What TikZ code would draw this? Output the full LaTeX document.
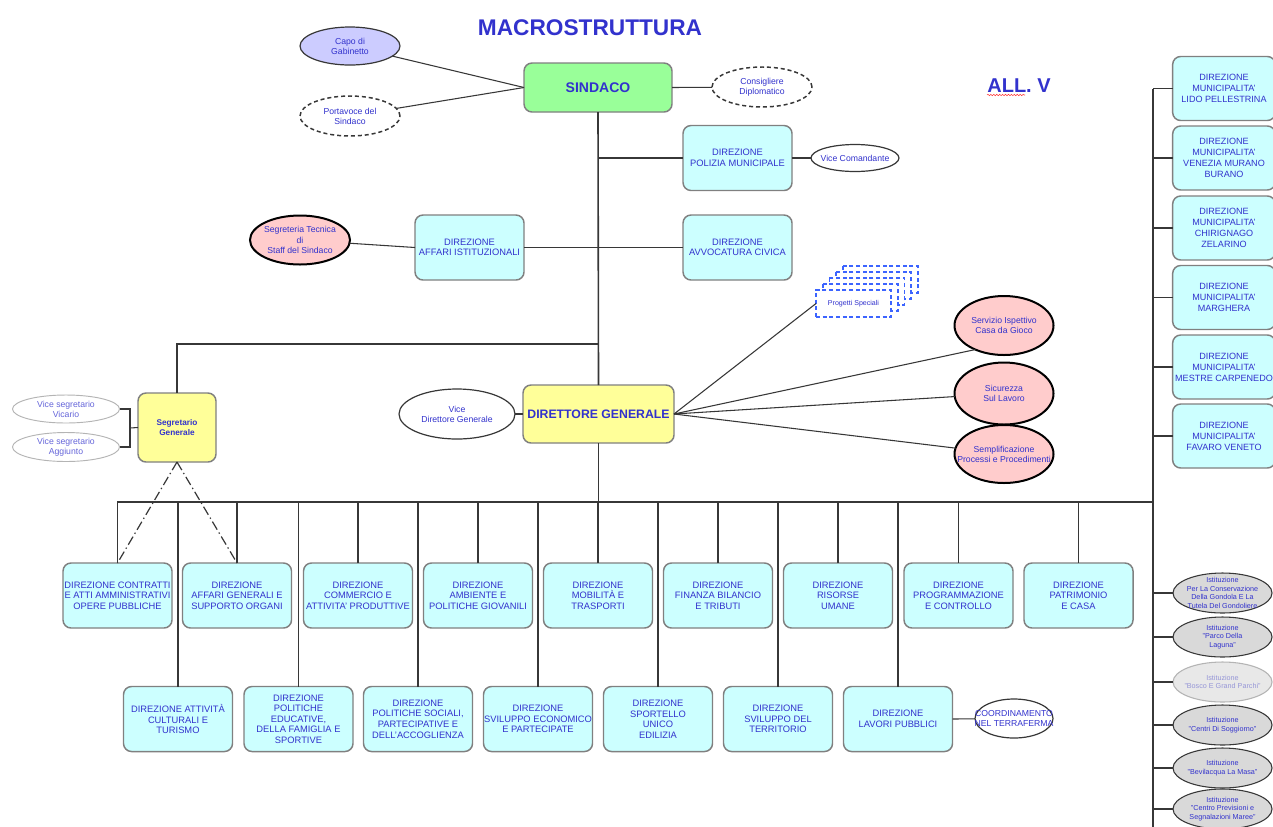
\documentclass[tikz,border=0pt]{standalone}
\usepackage{fontspec}
\setmainfont{Liberation Sans}
\usetikzlibrary{shapes.geometric,decorations.pathmorphing}
\newcommand\fsz[2]{\fontsize{#1}{#2}\selectfont}
\definecolor{txtblue}{RGB}{50,50,205}
\definecolor{cyanf}{RGB}{204,255,255}
\definecolor{boxgray}{RGB}{128,128,128}
\definecolor{greenf}{RGB}{153,255,153}
\definecolor{yellowf}{RGB}{255,255,153}
\definecolor{pinkf}{RGB}{255,204,204}
\definecolor{lavf}{RGB}{204,204,255}
\definecolor{istf}{RGB}{217,217,217}
\definecolor{linec}{RGB}{55,55,55}
\definecolor{psblue}{RGB}{60,100,255}
\definecolor{lightline}{RGB}{180,180,180}
\definecolor{paletxt}{RGB}{150,150,215}
\begin{document}
\begin{tikzpicture}[x=0.75pt,y=-0.75pt,
  base/.style={text=txtblue, align=center, inner sep=0pt, outer sep=0pt},
  dirbox/.style={base, draw=boxgray, line width=1.1pt, fill=cyanf, rounded corners=6pt,
     minimum width=81.75pt, minimum height=48.75pt, font=\fsz{7}{7.9}},
  munbox/.style={dirbox, minimum width=77pt, minimum height=48pt, font=\fsz{6.8}{8.2}},
  ell/.style={base, ellipse, draw=linec, line width=0.9pt},
  elltext/.style={base, font=\fsz{6.5}{7.6}},
  smalltext/.style={base, font=\fsz{5.4}{6.5}},
  pinkell/.style={ell, fill=pinkf, draw=black, line width=1.5pt},
  istell/.style={ell, fill=istf, draw=linec, line width=0.8pt, minimum width=74.25pt, minimum height=30pt},
  dashell/.style={ell, dashed, dash pattern=on 3pt off 2.2pt, line width=1.1pt},
  conn/.style={draw=linec, line width=0.8pt},
  thickconn/.style={draw=linec, line width=1.2pt},
  dashdot/.style={draw=linec, line width=0.9pt, dash pattern=on 7pt off 2.5pt on 1pt off 2.5pt},
  psdash/.style={draw=psblue, line width=1.2pt, dash pattern=on 3pt off 2pt}
]
\useasboundingbox (0,0) rectangle (1273,826);
\fill[white] (0,0) rectangle (1273,826);
\clip (0,0) rectangle (1273,826);

% titles
\node[base, font=\fsz{17}{20}\bfseries] (title) at (590,28) {MACROSTRUTTURA};
\node[base, font=\fsz{15}{18}\bfseries] (allv) at (1019,86) {ALL. V};
\coordinate (ulA) at (987,95);
\coordinate (ulB) at (1025,95);
\draw[red!80, line width=0.4pt, decorate, decoration={snake, amplitude=0.5pt, segment length=2.2pt}] (ulA) -- (ulB);

% top
\node[base, draw=boxgray, line width=1.1pt, fill=greenf, rounded corners=6pt,
      minimum width=111pt, minimum height=36.75pt, font=\fsz{10.5}{12}\bfseries] (sindaco) at (598,87.5) {SINDACO};
\node[ell, fill=lavf, minimum width=75pt, minimum height=28.5pt,
      label={[elltext]center:Capo di\\Gabinetto}] (capo) at (350,46) {};
\node[dashell, minimum width=75pt, minimum height=30pt,
      label={[elltext]center:Portavoce del\\Sindaco}] (porta) at (350,116) {};
\node[dashell, minimum width=75pt, minimum height=30pt,
      label={[elltext]center:Consigliere\\Diplomatico}] (consig) at (762,87) {};

\node[dirbox] (polizia) at (737.5,158) {DIREZIONE\\POLIZIA MUNICIPALE};
\node[ell, minimum width=66pt, minimum height=20.25pt,
      label={[elltext]center:Vice Comandante}] (vcom) at (855,158) {};

\node[dirbox] (affari) at (469.5,247.5) {DIREZIONE\\AFFARI ISTITUZIONALI};
\node[dirbox] (avvoc) at (737.5,247.5) {DIREZIONE\\AVVOCATURA CIVICA};
\node[pinkell, minimum width=75pt, minimum height=36.75pt,
      label={[elltext]center:Segreteria Tecnica\\di\\Staff del Sindaco}] (segr) at (300,240) {};

% direttore generale
\node[base, draw=boxgray, line width=1.1pt, fill=yellowf, rounded corners=6pt,
      minimum width=113.25pt, minimum height=43.5pt, font=\fsz{9.2}{11}\bfseries] (dg) at (598.5,414) {DIRETTORE GENERALE};
\node[ell, minimum width=87pt, minimum height=37.5pt,
      label={[elltext]center:Vice\\Direttore Generale}] (vdg) at (457,414) {};

% progetti speciali
\foreach \k in {4,3,2,1}
  \draw[psdash, fill=white] ({816+6.7*\k},{290-6*\k}) rectangle ({891+6.7*\k},{317-6*\k});
\node[base, psdash, fill=white, minimum width=56.25pt, minimum height=20.25pt,
      font=\fsz{5.3}{6.4}] (ps) at (853.5,303.5) {Progetti Speciali};

\node[pinkell, minimum width=74.25pt, minimum height=44.25pt,
      label={[elltext]center:Servizio Ispettivo\\Casa da Gioco}] (serv) at (1004,325.5) {};
\node[pinkell, minimum width=74.25pt, minimum height=46.5pt,
      label={[elltext]center:Sicurezza\\Sul Lavoro}] (sic) at (1004,393.5) {};
\node[pinkell, minimum width=74.25pt, minimum height=43.5pt,
      label={[elltext]center:Semplificazione\\Processi e Procedimenti}] (sempl) at (1004,454) {};

% segretario generale
\node[base, draw=boxgray, line width=1.1pt, fill=yellowf, rounded corners=6pt,
      minimum width=58.5pt, minimum height=51.75pt, font=\fsz{6.2}{7.6}\bfseries] (sg) at (177,427.5) {Segretario\\Generale};
\node[ell, draw=lightline, line width=0.7pt, minimum width=80.25pt, minimum height=21pt,
      label={[elltext, text=txtblue!75]center:Vice segretario\\Vicario}] (vv) at (66,409) {};
\node[ell, draw=lightline, line width=0.7pt, minimum width=80.25pt, minimum height=21.75pt,
      label={[elltext, text=txtblue!75]center:Vice segretario\\Aggiunto}] (va) at (66,447) {};

% municipalita
\node[munbox] (m1) at (1224,88.5) {DIREZIONE\\MUNICIPALITA'\\LIDO PELLESTRINA};
\node[munbox] (m2) at (1224,158) {DIREZIONE\\MUNICIPALITA'\\VENEZIA MURANO\\BURANO};
\node[munbox] (m3) at (1224,228) {DIREZIONE\\MUNICIPALITA'\\CHIRIGNAGO\\ZELARINO};
\node[munbox] (m4) at (1224,297.5) {DIREZIONE\\MUNICIPALITA'\\MARGHERA};
\node[munbox] (m5) at (1224,367) {DIREZIONE\\MUNICIPALITA'\\MESTRE CARPENEDO};
\node[munbox] (m6) at (1224,436) {DIREZIONE\\MUNICIPALITA'\\FAVARO VENETO};

% istituzioni
\node[istell, label={[smalltext]center:Istituzione\\Per La Conservazione\\Della Gondola E La\\Tutela Del Gondoliere}] (i1) at (1222.5,593) {};
\node[istell, label={[smalltext]center:Istituzione\\"Parco Della\\Laguna"}] (i2) at (1222.5,637) {};
\node[istell, draw=lightline, fill=istf!60, label={[smalltext, text=paletxt]center:Istituzione\\"Bosco E Grand Parchi"}] (i3) at (1222.5,682) {};
\node[istell, label={[smalltext]center:Istituzione\\"Centri Di Soggiorno"}] (i4) at (1222.5,725) {};
\node[istell, label={[smalltext]center:Istituzione\\"Bevilacqua La Masa"}] (i5) at (1222.5,768) {};
\node[istell, label={[smalltext]center:Istituzione\\"Centro Previsioni e\\Segnalazioni Maree"}] (i6) at (1222.5,809) {};

% row 1
\node[dirbox] (a1) at (117.5,595.5) {DIREZIONE CONTRATTI\\E ATTI AMMINISTRATIVI\\OPERE PUBBLICHE};
\node[dirbox] (a2) at (237,595.5) {DIREZIONE\\AFFARI GENERALI E\\SUPPORTO ORGANI};
\node[dirbox] (a3) at (358,595.5) {DIREZIONE\\COMMERCIO E\\ATTIVITA' PRODUTTIVE};
\node[dirbox] (a4) at (478,595.5) {DIREZIONE\\AMBIENTE E\\POLITICHE GIOVANILI};
\node[dirbox] (a5) at (598,595.5) {DIREZIONE\\MOBILITÀ E\\TRASPORTI};
\node[dirbox] (a6) at (718,595.5) {DIREZIONE\\FINANZA BILANCIO\\E TRIBUTI};
\node[dirbox] (a7) at (838,595.5) {DIREZIONE\\RISORSE\\UMANE};
\node[dirbox] (a8) at (958.5,595.5) {DIREZIONE\\PROGRAMMAZIONE\\E CONTROLLO};
\node[dirbox] (a9) at (1078.5,595.5) {DIREZIONE\\PATRIMONIO\\E CASA};

% row 2
\node[dirbox] (b1) at (178,719) {DIREZIONE ATTIVITÀ\\CULTURALI E\\TURISMO};
\node[dirbox] (b2) at (298.5,719) {DIREZIONE\\POLITICHE\\EDUCATIVE,\\DELLA FAMIGLIA E\\SPORTIVE};
\node[dirbox] (b3) at (418,719) {DIREZIONE\\POLITICHE SOCIALI,\\PARTECIPATIVE E\\DELL'ACCOGLIENZA};
\node[dirbox] (b4) at (538,719) {DIREZIONE\\SVILUPPO ECONOMICO\\E PARTECIPATE};
\node[dirbox] (b5) at (658,719) {DIREZIONE\\SPORTELLO\\UNICO\\EDILIZIA};
\node[dirbox] (b6) at (778,719) {DIREZIONE\\SVILUPPO DEL\\TERRITORIO};
\node[dirbox] (b7) at (898,719) {DIREZIONE\\LAVORI PUBBLICI};
\node[ell, minimum width=58.5pt, minimum height=29.25pt,
      label={[elltext]center:COORDINAMENTO\\NEL TERRAFERMA}] (coord) at (1014,718.5) {};

% ---- connectors ----
\coordinate (barL) at (117,502);
\coordinate (barR) at (1153,502);
\coordinate (rtop) at (1153,88.5);
\coordinate (rbot) at (1153,830);
\coordinate (j1) at (598.5,344);
\coordinate (brk) at (130,428);

\draw[conn] (capo) -- (sindaco.west);
\draw[conn] (porta) -- (sindaco.west);
\draw[conn] (sindaco.east) -- (consig);
\draw[thickconn] (sindaco.south) -- (dg.north);
\draw[thickconn] (dg.south) -- (dg.south |- barL);
\draw[conn] (polizia.west -| sindaco.south) -- (polizia.west);
\draw[conn] (polizia.east) -- (vcom);
\draw[conn] (affari.east) -- (avvoc.west);
\draw[conn] (segr) -- (affari.west);
\draw[conn] (sg.north) |- (j1);
\draw[conn] (vdg) -- (dg.west);
\draw[conn] (dg.east) -- (ps.west);
\draw[conn] (dg.east) -- (serv.220);
\draw[conn] (dg.east) -- (sic);
\draw[conn] (dg.east) -- (sempl);
\draw[conn] (vv.east) -| (brk);
\draw[conn] (va.east) -| (brk);
\draw[conn] (brk) -- (sg.west);

\draw[thickconn] (barL) -- (barR);
\draw[thickconn] (rtop) -- (rbot);
\foreach \n in {m1,m2,m3,m4,m5,m6,i1,i2,i3,i4,i5,i6}
  \draw[conn] (\n.west) -- (\n.west -| rtop);
\foreach \n in {a1,a2,a3,a4,a5,a6,a7,a8,a9,b1,b2,b3,b4,b5,b6,b7}
  \draw[conn] (\n.north) -- (\n.north |- barL);
\draw[dashdot] (sg.south) -- (a1.north);
\draw[dashdot] (sg.south) -- (a2.north);
\draw[conn] (b7.east) -- (coord);
\end{tikzpicture}
\end{document}
